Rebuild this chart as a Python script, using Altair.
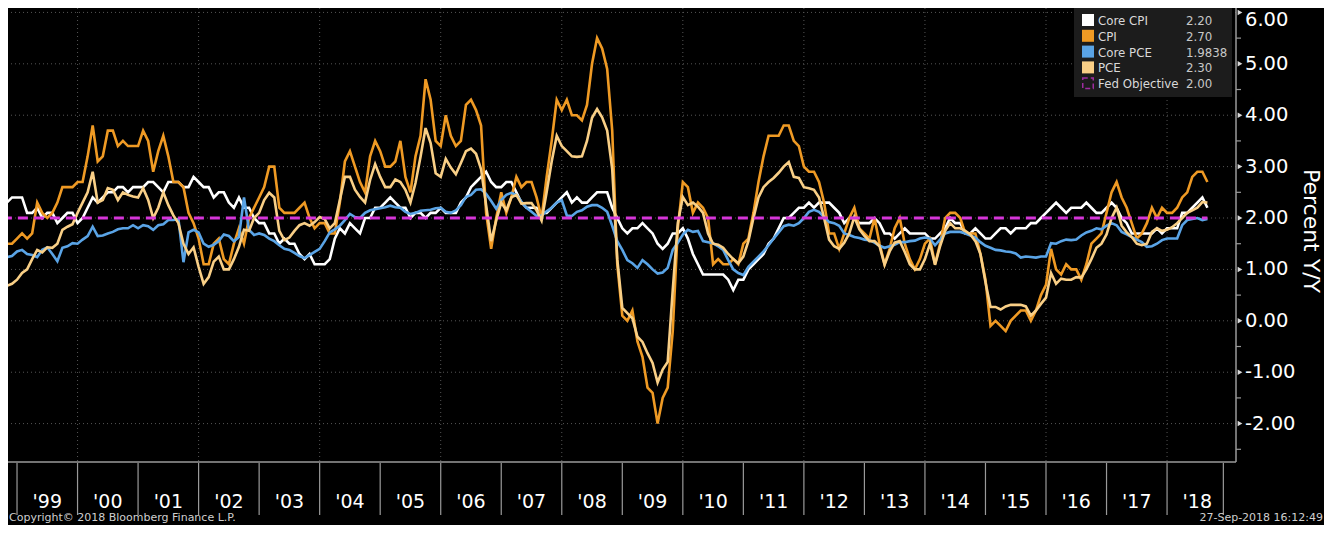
import altair as alt
import pandas as pd

# ---------------- data (monthly, first observation Sep-1998, last Aug-2018) -------------
START_YEAR, START_MONTH = 1998, 9

core_cpi = [
    2.5, 2.3, 2.4, 2.4,
    2.4, 2.1, 2.1, 2.2, 2.0, 2.1, 2.1, 1.9, 2.0, 2.1, 2.1, 1.9,
    2.0, 2.2, 2.4, 2.3, 2.4, 2.5, 2.5, 2.6, 2.6, 2.5, 2.6, 2.6,
    2.6, 2.7, 2.7, 2.6, 2.5, 2.7, 2.7, 2.7, 2.6, 2.6, 2.8, 2.7,
    2.6, 2.6, 2.4, 2.5, 2.5, 2.3, 2.2, 2.4, 2.2, 2.2, 2.0, 1.9,
    1.9, 1.7, 1.7, 1.5, 1.6, 1.5, 1.5, 1.3, 1.2, 1.3, 1.1, 1.1,
    1.1, 1.2, 1.6, 1.8, 1.7, 1.9, 1.8, 1.7, 2.0, 2.0, 2.2, 2.2,
    2.3, 2.4, 2.3, 2.2, 2.2, 2.0, 2.1, 2.1, 2.0, 2.1, 2.1, 2.2,
    2.1, 2.1, 2.1, 2.3, 2.4, 2.6, 2.7, 2.8, 2.9, 2.7, 2.6, 2.6,
    2.7, 2.7, 2.5, 2.3, 2.2, 2.2, 2.2, 2.1, 2.1, 2.2, 2.3, 2.4,
    2.5, 2.3, 2.4, 2.3, 2.3, 2.4, 2.5, 2.5, 2.5, 2.2, 2.0, 1.8,
    1.7, 1.8, 1.8, 1.9, 1.8, 1.7, 1.5, 1.4, 1.5, 1.7, 1.7, 1.8,
    1.6, 1.3, 1.1, 0.9, 0.9, 0.9, 0.9, 0.9, 0.8, 0.6, 0.8, 0.8,
    1.0, 1.1, 1.2, 1.3, 1.5, 1.6, 1.8, 2.0, 2.0, 2.1, 2.2, 2.2,
    2.3, 2.2, 2.3, 2.3, 2.3, 2.2, 2.1, 1.9, 2.0, 2.0, 1.9, 1.9,
    1.9, 2.0, 1.9, 1.7, 1.7, 1.6, 1.7, 1.8, 1.7, 1.7, 1.7, 1.7,
    1.6, 1.6, 1.7, 1.8, 2.0, 1.9, 1.9, 1.7, 1.7, 1.8, 1.7, 1.6,
    1.6, 1.7, 1.8, 1.8, 1.7, 1.8, 1.8, 1.8, 1.9, 1.9, 2.0, 2.1,
    2.2, 2.3, 2.2, 2.1, 2.2, 2.2, 2.2, 2.3, 2.2, 2.1, 2.1, 2.2,
    2.3, 2.2, 2.0, 1.9, 1.7, 1.7, 1.7, 1.7, 1.7, 1.8, 1.7, 1.8,
    1.8, 1.8, 2.1, 2.1, 2.2, 2.3, 2.4, 2.2,
]

cpi = [
    1.5, 1.5, 1.5, 1.6,
    1.7, 1.6, 1.7, 2.3, 2.1, 2.0, 2.1, 2.3, 2.6, 2.6, 2.6, 2.7,
    2.7, 3.2, 3.8, 3.1, 3.2, 3.7, 3.7, 3.4, 3.5, 3.4, 3.4, 3.4,
    3.7, 3.5, 2.9, 3.3, 3.6, 3.2, 2.7, 2.7, 2.6, 2.1, 1.9, 1.6,
    1.1, 1.1, 1.5, 1.6, 1.2, 1.1, 1.5, 1.8, 1.5, 2.0, 2.2, 2.4,
    2.6, 3.0, 3.0, 2.2, 2.1, 2.1, 2.1, 2.2, 2.3, 2.0, 1.8, 1.9,
    1.9, 1.7, 1.7, 2.3, 3.1, 3.3, 3.0, 2.7, 2.5, 3.2, 3.5, 3.3,
    3.0, 3.0, 3.1, 3.5, 2.8, 2.5, 3.2, 3.6, 4.7, 4.3, 3.5, 3.4,
    4.0, 3.6, 3.4, 3.5, 4.2, 4.3, 4.1, 3.8, 2.1, 1.4, 2.0, 2.5,
    2.1, 2.4, 2.8, 2.6, 2.7, 2.7, 2.4, 2.0, 2.8, 3.5, 4.3, 4.1,
    4.3, 4.0, 4.0, 3.9, 4.2, 5.0, 5.5, 5.3, 4.9, 3.7, 1.1, 0.1,
    0.0, 0.2, -0.4, -0.7, -1.3, -1.4, -2.0, -1.5, -1.3, -0.2, 1.8, 2.7,
    2.6, 2.1, 2.3, 2.2, 2.0, 1.1, 1.2, 1.1, 1.1, 1.2, 1.1, 1.5,
    1.6, 2.1, 2.7, 3.2, 3.6, 3.6, 3.6, 3.8, 3.8, 3.5, 3.4, 3.0,
    2.9, 2.9, 2.7, 2.3, 1.7, 1.7, 1.4, 1.7, 2.0, 2.2, 1.8, 1.7,
    1.6, 2.0, 1.5, 1.1, 1.4, 1.8, 2.0, 1.5, 1.2, 1.0, 1.2, 1.5,
    1.6, 1.1, 1.5, 2.0, 2.1, 2.1, 2.0, 1.7, 1.7, 1.7, 1.3, 0.8,
    -0.1, 0.0, -0.1, -0.2, 0.0, 0.1, 0.2, 0.2, 0.0, 0.2, 0.5, 0.7,
    1.4, 1.0, 0.9, 1.1, 1.0, 1.0, 0.8, 1.1, 1.5, 1.6, 1.7, 2.1,
    2.5, 2.7, 2.4, 2.2, 1.9, 1.6, 1.7, 1.9, 2.2, 2.0, 2.2, 2.1,
    2.1, 2.2, 2.4, 2.5, 2.8, 2.9, 2.9, 2.7,
]

core_pce = [
    1.22, 1.24, 1.26, 1.35,
    1.38, 1.30, 1.28, 1.24, 1.38, 1.43, 1.30, 1.16, 1.42, 1.45, 1.51, 1.50,
    1.58, 1.65, 1.83, 1.65, 1.66, 1.70, 1.73, 1.78, 1.80, 1.80, 1.86, 1.80,
    1.86, 1.84, 1.77, 1.86, 1.88, 1.96, 1.96, 1.98, 1.14, 1.72, 1.77, 1.72,
    1.50, 1.44, 1.48, 1.55, 1.68, 1.65, 1.55, 1.63, 2.40, 1.77, 1.67, 1.70,
    1.67, 1.60, 1.55, 1.47, 1.40, 1.38, 1.32, 1.26, 1.22, 1.28, 1.34, 1.40,
    1.55, 1.72, 1.78, 1.85, 1.96, 2.08, 2.02, 2.00, 2.10, 2.15, 2.17, 2.19,
    2.21, 2.24, 2.21, 2.20, 2.12, 2.08, 2.10, 2.14, 2.15, 2.16, 2.19, 2.20,
    2.12, 2.10, 2.15, 2.25, 2.41, 2.45, 2.55, 2.56, 2.47, 2.33, 2.18, 2.35,
    2.45, 2.49, 2.45, 2.32, 2.20, 2.12, 2.04, 2.05, 2.13, 2.20, 2.30, 2.35,
    2.05, 2.04, 2.12, 2.15, 2.22, 2.25, 2.25, 2.20, 2.12, 1.85, 1.55, 1.38,
    1.18, 1.12, 1.03, 1.18, 1.10, 1.00, 0.92, 0.94, 1.03, 1.38, 1.52, 1.68,
    1.77, 1.73, 1.75, 1.55, 1.53, 1.51, 1.45, 1.38, 1.18, 1.00, 0.93, 0.89,
    1.05, 1.15, 1.25, 1.35, 1.47, 1.60, 1.72, 1.84, 1.87, 1.85, 1.90, 2.00,
    2.12, 2.16, 2.12, 2.02, 1.92, 1.90, 1.85, 1.70, 1.67, 1.63, 1.61, 1.58,
    1.57, 1.52, 1.46, 1.42, 1.45, 1.48, 1.53, 1.53, 1.55, 1.56, 1.60, 1.62,
    1.60, 1.47, 1.58, 1.70, 1.73, 1.73, 1.73, 1.70, 1.66, 1.62, 1.53, 1.46,
    1.42, 1.38, 1.37, 1.35, 1.34, 1.31, 1.23, 1.25, 1.24, 1.23, 1.25, 1.25,
    1.51, 1.50, 1.55, 1.58, 1.57, 1.58, 1.66, 1.72, 1.75, 1.80, 1.78, 1.85,
    1.90, 1.86, 1.73, 1.68, 1.63, 1.58, 1.53, 1.44, 1.45, 1.50, 1.57, 1.60,
    1.60, 1.60, 1.86, 1.96, 1.98, 2.00, 1.96, 1.98,
]

pce = [
    0.62, 0.68, 0.72, 0.80,
    0.93, 1.00, 1.20, 1.38, 1.33, 1.43, 1.42, 1.50, 1.77, 1.83, 1.88, 2.10,
    2.30, 2.50, 2.90, 2.30, 2.35, 2.58, 2.55, 2.35, 2.50, 2.45, 2.42, 2.40,
    2.58, 2.35, 2.00, 2.20, 2.50, 2.25, 2.05, 1.90, 1.50, 1.30, 1.43, 1.05,
    0.72, 0.85, 1.15, 1.25, 1.00, 1.00, 1.20, 1.44, 1.77, 1.75, 2.00, 2.10,
    2.35, 2.49, 2.40, 1.75, 1.57, 1.62, 1.75, 1.86, 1.90, 1.85, 1.92, 2.02,
    1.98, 1.80, 1.90, 2.35, 2.80, 2.80, 2.55, 2.41, 2.30, 2.74, 3.05, 2.80,
    2.60, 2.60, 2.75, 2.70, 2.55, 2.30, 2.68, 3.19, 3.75, 3.46, 2.87, 2.80,
    3.15, 2.98, 2.85, 3.07, 3.30, 3.35, 3.25, 2.95, 2.25, 1.55, 1.95, 2.30,
    2.15, 2.40, 2.45, 2.28, 2.29, 2.29, 2.15, 1.95, 2.50, 3.10, 3.60, 3.40,
    3.30, 3.20, 3.19, 3.20, 3.50, 3.95, 4.12, 3.96, 3.70, 2.95, 1.20, 0.25,
    0.15, 0.05, -0.31, -0.41, -0.63, -0.82, -1.20, -0.95, -0.80, 0.60, 1.90, 2.41,
    2.25, 2.30, 2.22, 2.10, 1.70, 1.50, 1.48, 1.42, 1.30, 1.20, 1.12, 1.25,
    1.55, 2.00, 2.40, 2.60, 2.70, 2.78, 2.88, 3.00, 3.09, 2.80, 2.78, 2.60,
    2.58, 2.55, 2.40, 2.00, 1.58, 1.45, 1.40, 1.52, 1.70, 2.02, 1.78, 1.65,
    1.55, 1.55, 1.45, 1.09, 1.35, 1.52, 1.55, 1.34, 1.10, 1.00, 1.00, 1.20,
    1.50, 1.09, 1.45, 1.75, 1.90, 1.80, 1.80, 1.75, 1.68, 1.55, 1.30, 0.75,
    0.27, 0.27, 0.22, 0.28, 0.31, 0.31, 0.31, 0.28, 0.10, 0.20, 0.33, 0.45,
    0.93, 0.72, 0.82, 0.80, 0.80, 0.85, 0.84, 1.00, 1.20, 1.42, 1.50, 1.68,
    2.00, 2.20, 1.85, 1.72, 1.63, 1.50, 1.47, 1.50, 1.73, 1.80, 1.75, 1.77,
    1.82, 1.90, 2.00, 2.10, 2.15, 2.20, 2.31, 2.30,
]

fed_objective = 2.0

series_names = ["Core CPI", "CPI", "Core PCE", "PCE", "Fed Objective"]
series_colors = ["#ffffff", "#ef9a24", "#5aa4e6", "#f9cf86", "#d535d8"]
legend_values = ["2.20", "2.70", "1.9838", "2.30", "2.00"]

label_years = list(range(1999, 2019))
year_labels = ["'%02d" % (y % 100) for y in label_years]
band_edges = list(range(1999, 2019)) + [2018.93]
grid_years = list(range(2000, 2019, 2))
y_ticks = [-2, -1, 0, 1, 2, 3, 4, 5, 6]
y_tick_labels = ["%.2f" % v for v in y_ticks]
y_minor = [-2.5, -1.5, -0.5, 0.5, 1.5, 2.5, 3.5, 4.5, 5.5]

copyright_text = "Copyright\u00a9 2018 Bloomberg Finance L.P."
stamp_text = "27-Sep-2018 16:12:49"
y_title = "Percent Y/Y"

# ---------------- helpers -------------------------------------------------------------
n = len(cpi)
assert len(core_cpi) == n and len(core_pce) == n and len(pce) == n
t_pos = [START_YEAR + (START_MONTH + i) / 12.0 for i in range(n)]  # month-end, decimal year

FONT = "DejaVu Sans"
GRID = "#555555"
AXIS = "#9a9a9a"
W, H = 1228, 454          # plot area
TOTAL_W, TOTAL_H = 1316, 517

xs = alt.Scale(domain=[1998.851, 2019.139], nice=False, zero=False)
ys = alt.Scale(domain=[-2.747, 6.086], nice=False, zero=False)

one = pd.DataFrame({"k": [0]})
layers = []

# gridlines
layers.append(
    alt.Chart(pd.DataFrame({"gy": grid_years})).mark_rule(
        color=GRID, strokeDash=[1, 3], strokeWidth=1
    ).encode(x=alt.X("gy:Q", scale=xs, axis=None))
)
layers.append(
    alt.Chart(pd.DataFrame({"gv": y_ticks})).mark_rule(
        color=GRID, strokeDash=[1, 3], strokeWidth=1
    ).encode(y=alt.Y("gv:Q", scale=ys, axis=None))
)

# series lines
series_values = [core_cpi, cpi, core_pce, pce]
for k, vals in enumerate(series_values):
    df = pd.DataFrame({"t": t_pos, "v": vals})
    layers.append(
        alt.Chart(df).mark_line(color=series_colors[k], strokeWidth=2.6, clip=True)
        .encode(x=alt.X("t:Q", scale=xs, axis=None), y=alt.Y("v:Q", scale=ys, axis=None))
    )

# Fed objective
layers.append(
    alt.Chart(pd.DataFrame({"t0": [t_pos[0]], "t1": [t_pos[-1]], "v": [fed_objective]}))
    .mark_rule(color=series_colors[4], strokeWidth=3, strokeDash=[10, 6], clip=True)
    .encode(x=alt.X("t0:Q", scale=xs, axis=None), x2="t1:Q",
            y=alt.Y("v:Q", scale=ys, axis=None))
)

# axis lines (bottom and right)
layers.append(
    alt.Chart(one).mark_rule(color=AXIS, strokeWidth=1.5)
    .encode(x=alt.value(0), x2=alt.value(W), y=alt.value(H))
)
layers.append(
    alt.Chart(one).mark_rule(color=AXIS, strokeWidth=1.5)
    .encode(x=alt.value(W), y=alt.value(0), y2=alt.value(H))
)

# bottom year bands
layers.append(
    alt.Chart(pd.DataFrame({"edge": band_edges})).mark_rule(color=AXIS, strokeWidth=1.2)
    .encode(x=alt.X("edge:Q", scale=xs, axis=None), y=alt.value(H + 1), y2=alt.value(507))
)
layers.append(
    alt.Chart(pd.DataFrame({"ly": [y + 0.5 for y in label_years], "lab": year_labels}))
    .mark_text(font=FONT, fontSize=19, color="#ffffff", align="center", baseline="alphabetic")
    .encode(x=alt.X("ly:Q", scale=xs, axis=None), y=alt.value(500), text="lab:N")
)

# right axis: arrow markers at majors, small ticks at halves, labels, title
layers.append(
    alt.Chart(pd.DataFrame({"tv": y_ticks})).mark_point(
        shape="triangle-right", filled=True, size=30, color="#d8d8d8", opacity=1)
    .encode(x=alt.value(W + 4), y=alt.Y("tv:Q", scale=ys, axis=None))
)
layers.append(
    alt.Chart(pd.DataFrame({"mv": y_minor})).mark_rule(color=AXIS, strokeWidth=1.2)
    .encode(x=alt.value(W), x2=alt.value(W + 5), y=alt.Y("mv:Q", scale=ys, axis=None))
)
# labels: the topmost one sits just under the top edge so it is not cut
layers.append(
    alt.Chart(pd.DataFrame({"tv": y_ticks[:-1], "tl": y_tick_labels[:-1]})).mark_text(
        font=FONT, fontSize=19.5, color="#ffffff", align="left", baseline="middle")
    .encode(x=alt.value(W + 9), y=alt.Y("tv:Q", scale=ys, axis=None), text="tl:N")
)
layers.append(
    alt.Chart(pd.DataFrame({"tv": y_ticks[-1:], "tl": y_tick_labels[-1:]})).mark_text(
        font=FONT, fontSize=19.5, color="#ffffff", align="left", baseline="middle", dy=8)
    .encode(x=alt.value(W + 9), y=alt.Y("tv:Q", scale=ys, axis=None), text="tl:N")
)
layers.append(
    alt.Chart(pd.DataFrame({"txt": [y_title]})).mark_text(
        font=FONT, fontSize=22, color="#ffffff", align="center", baseline="middle", angle=90)
    .encode(x=alt.value(1303), y=alt.value(223), text="txt:N")
)

# legend box
layers.append(
    alt.Chart(one).mark_rect(color="#1c1c1c")
    .encode(x=alt.value(1066), x2=alt.value(1224), y=alt.value(0), y2=alt.value(89))
)
for k, name in enumerate(series_names):
    yy = 12 + 15.8 * k
    row = pd.DataFrame({"name": [name], "val": [legend_values[k]]})
    if name == "Fed Objective":
        sw = alt.Chart(row).mark_square(filled=False, size=110, color=series_colors[k],
                                        strokeWidth=1.5, strokeDash=[5, 3])
    else:
        sw = alt.Chart(row).mark_square(filled=True, size=144, color=series_colors[k], opacity=1)
    layers.append(sw.encode(x=alt.value(1080), y=alt.value(yy)))
    layers.append(
        alt.Chart(row).mark_text(font=FONT, fontSize=11.8, color="#d9d9d9",
                                 align="left", baseline="middle")
        .encode(x=alt.value(1090), y=alt.value(yy + 1), text="name:N")
    )
    layers.append(
        alt.Chart(row).mark_text(font=FONT, fontSize=11.8, color="#c8c8c8",
                                 align="left", baseline="middle")
        .encode(x=alt.value(1178), y=alt.value(yy + 1), text="val:N")
    )

# footer
layers.append(
    alt.Chart(pd.DataFrame({"txt": [copyright_text]}))
    .mark_text(font=FONT, fontSize=11, color="#cfcfcf", align="left", baseline="alphabetic")
    .encode(x=alt.value(1), y=alt.value(513), text="txt:N")
)
layers.append(
    alt.Chart(pd.DataFrame({"txt": [stamp_text]}))
    .mark_text(font=FONT, fontSize=11, color="#cfcfcf", align="right", baseline="alphabetic")
    .encode(x=alt.value(TOTAL_W - 1), y=alt.value(513), text="txt:N")
)

chart = alt.layer(*layers).properties(
    width=W,
    height=H,
    padding={"left": 0, "top": 0, "right": TOTAL_W - W, "bottom": TOTAL_H - H},
    autosize=alt.AutoSizeParams(type="none"),
    background="#000000",
).configure(font=FONT, view=alt.ViewConfig(stroke=None))

chart.save("out.html", embed_options={"renderer": "svg", "actions": False})
